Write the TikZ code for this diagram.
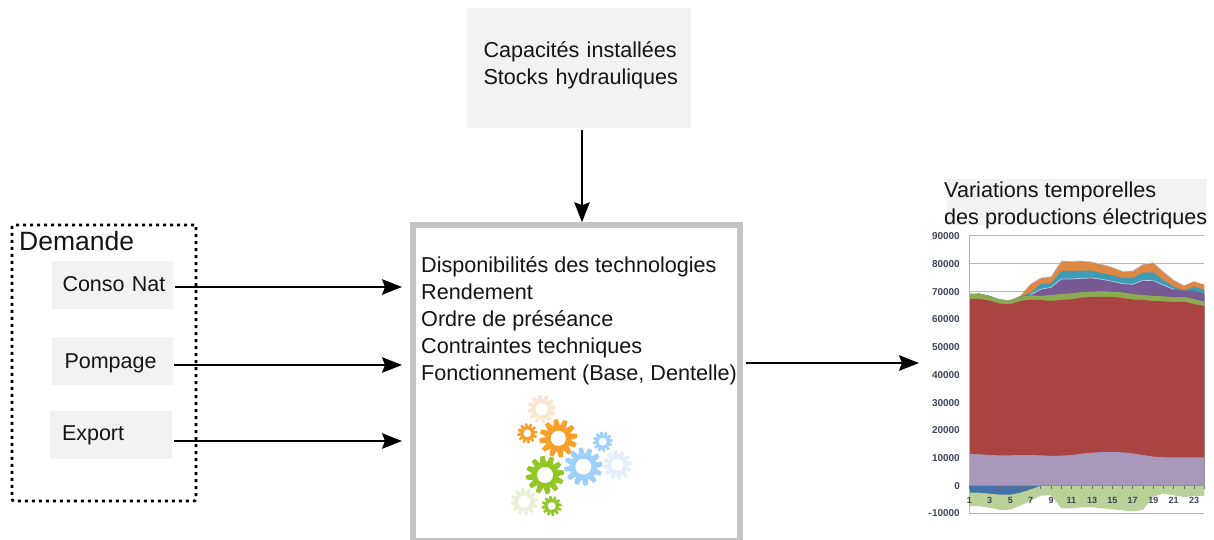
\documentclass[tikz,border=0pt]{standalone}
\usepackage{fontspec}
\setmainfont{Liberation Sans}
\usetikzlibrary{arrows.meta,calc}
\definecolor{boxgray}{HTML}{F2F2F2}
\definecolor{framegray}{HTML}{C4C4C4}
\definecolor{axisgray}{HTML}{B5B5B5}
\definecolor{labelblue}{HTML}{3C4658}
\definecolor{cred}{HTML}{A94442}
\definecolor{clpurple}{HTML}{A898BC}
\definecolor{cpurple}{HTML}{775A94}
\definecolor{cteal}{HTML}{3F9CB5}
\definecolor{corange}{HTML}{DE8743}
\definecolor{cgreen}{HTML}{8BAA52}
\definecolor{cblue}{HTML}{4472A8}
\definecolor{clgreen}{HTML}{BBD19A}
\definecolor{cedge}{HTML}{B9CDE5}
\definecolor{gorange}{HTML}{F9A02B}
\definecolor{gporange}{HTML}{FBE6CF}
\definecolor{gblue}{HTML}{9FCFFB}
\definecolor{gpblue}{HTML}{E3F0FC}
\definecolor{ggreen}{HTML}{93C726}
\definecolor{gpgreen}{HTML}{E8F0D6}
\tikzset{
  txt/.style={font=\fontsize{21.6}{27}\selectfont, inner sep=0pt, align=left, text=black!92},
  graybox/.style={fill=boxgray, draw=none, inner sep=0pt, font=\fontsize{21.5}{27}\selectfont, align=left, text=black!92},
  arr/.style={line width=1.7pt, -{Stealth[length=20pt,width=15.5pt,inset=3pt]}},
  ylab/.style={font=\fontsize{10}{12}\selectfont\bfseries, text=labelblue, inner sep=0pt, anchor=east},
  xlab/.style={font=\fontsize{9}{11}\selectfont\bfseries, text=labelblue, inner sep=0pt},
}
\newcommand{\gearat}[6]{%
  \begin{scope}[shift={(#1,#2)}]
    \fill[#5] (0,0) circle ({0.70*#3});
    \foreach \ga in {1,...,#6}{%
      \fill[#5, rotate={\ga*360/#6+8}]
        ({0.62*#3},{-0.17*#3}) -- (#3,{-0.11*#3}) -- (#3,{0.11*#3}) -- ({0.62*#3},{0.17*#3}) -- cycle;
    }
    \fill[white] (0,0) circle (#4);
  \end{scope}%
}
\begin{document}
\begin{tikzpicture}[x=1pt,y=-1pt]
\useasboundingbox (0,0) rectangle (1214,540);

% top box
\node[graybox, minimum width=224pt, minimum height=120pt, text width=224pt, font=\fontsize{21.6}{27}\selectfont] (caps) at (579,68) {\hspace*{16.5pt}\raisebox{0pt}[0pt][0pt]{\raisebox{-2pt}{\parbox{207pt}{Capacités installées\\Stocks hydrauliques}}}};

% central box
\begin{scope}
\clip (0,0) rectangle (1214,540);
\node[draw=framegray, line width=5.5pt, fill=white, inner sep=0pt, minimum width=327pt, minimum height=316pt] (central) at (576.5,383) {};
\end{scope}
\node[txt, anchor=north west] (centraltext) at (421,256.5) {Disponibilités des technologies\\Rendement\\Ordre de préséance\\Contraintes techniques\\Fonctionnement (Base, Dentelle)};

% demand box
\node[draw=black, line width=2.6pt, dash pattern=on 3pt off 4pt, rounded corners=2pt, inner sep=0pt, minimum width=184pt, minimum height=276pt] (demand) at (104,363) {};
\node[inner sep=0pt, anchor=base west, font=\fontsize{26.5}{30}\selectfont, text=black!92] (demandlabel) at (19,250.5) {Demande};

\node[graybox, minimum width=121.5pt, minimum height=48pt, text width=100pt] (conso) at (112.5,284.5) {\raisebox{-6.5pt}[0pt][0pt]{Conso Nat}};
\node[graybox, minimum width=121.5pt, minimum height=48pt, text width=96pt] (pompage) at (112.5,361) {\raisebox{-7.3pt}[0pt][0pt]{Pompage}};
\node[graybox, minimum width=121.5pt, minimum height=48pt, text width=98pt] (export) at (111,435) {\raisebox{-5.3pt}[0pt][0pt]{Export}};

\coordinate (inA) at (402,287);
\coordinate (inB) at (402,365);
\coordinate (inC) at (402,441);
\coordinate (capsout) at (582,130.5);
\coordinate (outend) at (919,363);
\draw[arr] ([shift={(2,2.5)}]conso.east) -- (inA);
\draw[arr] ([shift={(1,4)}]pompage.east) -- (inB);
\draw[arr] ([shift={(2,6)}]export.east) -- (inC);
\draw[arr] (capsout) -- (central.north -| capsout);
\draw[arr] ([shift={(3,-20)}]central.east) -- (outend);

% gears
\gearat{541.7}{409}{14}{6}{gporange}{12}
\gearat{617.3}{465}{14.5}{6}{gpblue}{12}
\gearat{524.3}{501.7}{13.5}{6}{gpgreen}{12}
\gearat{527.3}{433.3}{10}{3.8}{gorange}{12}
\gearat{558.3}{438.3}{19}{7.6}{gorange}{12}
\gearat{602.7}{441.7}{10}{4}{gblue}{12}
\gearat{583.3}{466.7}{19}{8}{gblue}{12}
\gearat{545}{475}{19}{8}{ggreen}{12}
\gearat{551.7}{506}{10}{4}{ggreen}{12}

% output title
\fill[boxgray] (946.5,179.5) rectangle (1207,225);
\node[txt, anchor=north west, font=\fontsize{21.6}{27}\selectfont] (outtitle) at (944,182) {Variations temporelles\\des productions électriques};

% chart, in coordinates of 3x the picture from (920,170)
\begin{scope}[shift={(920,170)}, x=0.33333pt, y=-0.33333pt]
  \draw[axisgray, line width=1pt] (148,198) -- (853,198);
  \draw[axisgray, line width=1pt] (148,282) -- (853,282);
  \draw[axisgray, line width=1pt] (148,366) -- (853,366);
  % stacked areas
  \fill[corange] (148,947) -- (148,372)--(179,371)--(209,378)--(240,389)--(271,391)--(301,378)--(332,342)--(362,324)--(393,320)--(424,273)--(454,274)--(485,273)--(516,276)--(546,283)--(577,292)--(608,304)--(638,303)--(669,283)--(700,278)--(730,305)--(761,330)--(792,347)--(822,334)--(853,344) -- (853,947) -- cycle;
  \draw[cedge, line width=0.7pt] (332,342)--(362,324)--(393,320)--(424,273)--(454,274)--(485,273)--(516,276)--(546,283)--(577,292)--(608,304)--(638,303)--(669,283)--(700,278)--(730,305)--(761,330)--(792,347);
  \fill[cteal] (148,947) -- (148,372)--(179,371)--(209,378)--(240,389)--(271,391)--(301,380)--(332,368)--(362,342)--(393,340)--(424,303)--(454,303)--(485,302)--(516,302)--(546,310)--(577,316)--(608,324)--(638,324)--(669,308)--(700,307)--(730,330)--(761,350)--(792,362)--(822,350)--(853,360) -- (853,947) -- cycle;
  \fill[cpurple] (148,947) -- (148,372)--(179,371)--(209,378)--(240,389)--(271,391)--(301,380)--(332,374)--(362,358)--(393,352)--(424,327)--(454,327)--(485,325)--(516,324)--(546,328)--(577,334)--(608,341)--(638,343)--(669,331)--(700,332)--(730,345)--(761,358)--(792,362)--(822,362)--(853,372) -- (853,947) -- cycle;
  \draw[cedge, line width=0.7pt] (332,374)--(362,358)--(393,352)--(424,327)--(454,327)--(485,325)--(516,324)--(546,328)--(577,334)--(608,341)--(638,343)--(669,331)--(700,332)--(730,345)--(761,358);
  \fill[cgreen] (148,947) -- (148,372)--(179,371)--(209,378)--(240,389)--(271,391)--(301,380)--(332,376)--(362,378)--(393,375)--(424,372)--(454,370)--(485,366)--(516,365)--(546,364)--(577,365)--(608,367)--(638,372)--(669,375)--(700,378)--(730,379)--(761,382)--(792,381)--(822,387)--(853,395) -- (853,947) -- cycle;
  \fill[cred] (148,947) -- (148,386)--(179,387)--(209,392)--(240,401)--(271,403)--(301,393)--(332,389)--(362,390)--(393,393)--(424,390)--(454,388)--(485,383)--(516,381)--(546,381)--(577,381)--(608,384)--(638,389)--(669,390)--(700,393)--(730,394)--(761,396)--(792,395)--(822,402)--(853,408) -- (853,947) -- cycle;
  \fill[clpurple] (148,947) -- (148,851)--(179,853)--(209,855)--(240,856)--(271,856)--(301,855)--(332,855)--(362,856)--(393,858)--(424,857)--(454,855)--(485,851)--(516,848)--(546,846)--(577,846)--(608,847)--(638,850)--(669,855)--(700,860)--(730,862)--(761,862)--(792,862)--(822,862)--(853,862) -- (853,947) -- cycle;
  \fill[clgreen] (148,947) -- (148,1008)--(179,1009)--(209,1013)--(240,1020)--(271,1019)--(301,1007)--(332,992)--(362,977)--(393,976)--(424,1015)--(454,1015)--(485,1012)--(516,1012)--(546,1015)--(577,1018)--(608,1021)--(638,1024)--(669,1020)--(700,980)--(730,971)--(761,976)--(792,981)--(822,978)--(853,978) -- (853,947) -- cycle;
  \fill[cblue] (148,947) -- (148,968)--(179,968)--(209,971)--(240,974)--(271,974)--(301,968)--(332,958)--(362,947) -- cycle;
  % axes
  \draw[axisgray, line width=1pt] (148,198) -- (148,1030);
  \draw[axisgray, line width=1pt] (148,1030) -- (853,1030);
  \draw[axisgray!80!black, line width=0.6pt] (148,947) -- (853,947);
  \foreach \tx in {148,179,209,240,271,301,332,362,393,424,454,485,516,546,577,608,638,669,700,730,761,792,822,853}
    \draw[axisgray!60!black, line width=0.6pt] (\tx,947) -- (\tx,957);
  % labels
  \foreach \yy/\lab in {198/90000,282/80000,366/70000,448/60000,531/50000,615/40000,698/30000,781/20000,865/10000,947/0,1030/-10000}
    \node[ylab] at (120,\yy) {\lab};
  \foreach \xx/\lab in {148/1,209/3,271/5,332/7,393/9,454/11,516/13,577/15,638/17,700/19,761/21,822/23}
    \node[xlab] at (\xx,990) {\lab};
\end{scope}
\end{tikzpicture}
\end{document}
